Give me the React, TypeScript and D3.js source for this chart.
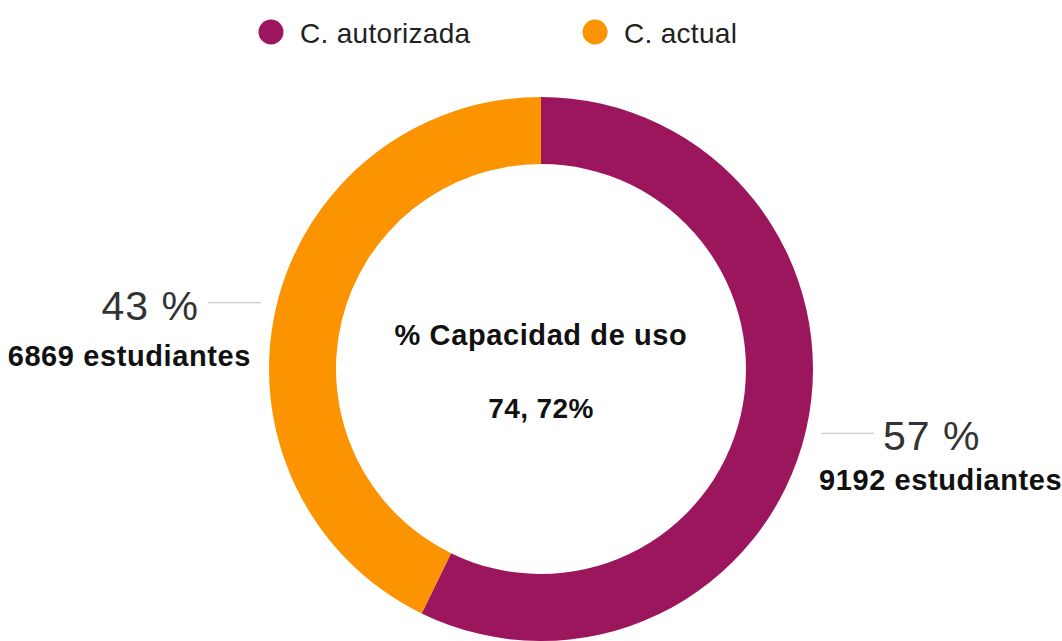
import React from "react";
import * as d3 from "d3";

const categories = ["C. autorizada", "C. actual"];
const students = [9192, 6869];
const percentLabels = ["57 %", "43 %"];
const studentLabels = ["9192 estudiantes", "6869 estudiantes"];
const colors = ["#9c165e", "#fc9300"];
const centerTitle = "% Capacidad de uso";
const centerValue = "74, 72%";

const W = 1062;
const H = 641;
const cx = 541;
const cy = 369;
const outerR = 272;
const innerR = 205;
const FONT = "'Liberation Sans', Arial, Helvetica, sans-serif";

export default function App() {
  const pie = d3.pie<number>().sort(null).value((d) => d)(students);
  const arc = d3.arc<d3.PieArcDatum<number>>().innerRadius(innerR).outerRadius(outerR);
  const legendX = [271, 595];

  return (
    <svg
      width={W}
      height={H}
      style={{ position: "absolute", left: 0, top: 0, display: "block", background: "#fff" }}
    >
      {categories.map((c, i) => (
        <g key={c}>
          <circle cx={legendX[i]} cy={32} r={12.5} fill={colors[i]} />
          <text x={legendX[i] + 29} y={43} fontFamily={FONT} fontSize={28} letterSpacing={0.3} fill="#222">
            {c}
          </text>
        </g>
      ))}

      <g transform={`translate(${cx},${cy})`}>
        {pie.map((p, i) => (
          <path key={i} d={arc(p) || ""} fill={colors[i]} />
        ))}
      </g>

      {pie.map((p, i) => {
        const mid = (p.startAngle + p.endAngle) / 2;
        const ax = cx + Math.sin(mid) * outerR;
        const ay = cy - Math.cos(mid) * outerR;
        const right = Math.sin(mid) > 0;
        const s = right ? 1 : -1;
        const ly = ay + (right ? 3 : -5);
        const x1 = ax + s * 15;
        const x2 = x1 + s * 53;
        return (
          <g key={"l" + i}>
            <line x1={x1} x2={x2} y1={ly} y2={ly} stroke="#bdbdbd" strokeWidth={1.2} />
            <text
              x={x2 + s * 9}
              y={ly + 17}
              textAnchor={right ? "start" : "end"}
              fontFamily={FONT}
              fontSize={41}
              letterSpacing={1}
              fill="#333"
            >
              {percentLabels[i]}
            </text>
            <text
              x={right ? x1 - 2 : x1 - 10}
              y={ly + (right ? 57 : 63)}
              textAnchor={right ? "start" : "end"}
              fontFamily={FONT}
              fontSize={29}
              letterSpacing={0.6}
              fontWeight="bold"
              fill="#111"
            >
              {studentLabels[i]}
            </text>
          </g>
        );
      })}

      <text x={cx} y={345} textAnchor="middle" fontFamily={FONT} fontSize={29} letterSpacing={0.6} fontWeight="bold" fill="#111">
        {centerTitle}
      </text>
      <text x={cx} y={418} textAnchor="middle" fontFamily={FONT} fontSize={28} letterSpacing={0.4} fontWeight="bold" fill="#111">
        {centerValue}
      </text>
    </svg>
  );
}
